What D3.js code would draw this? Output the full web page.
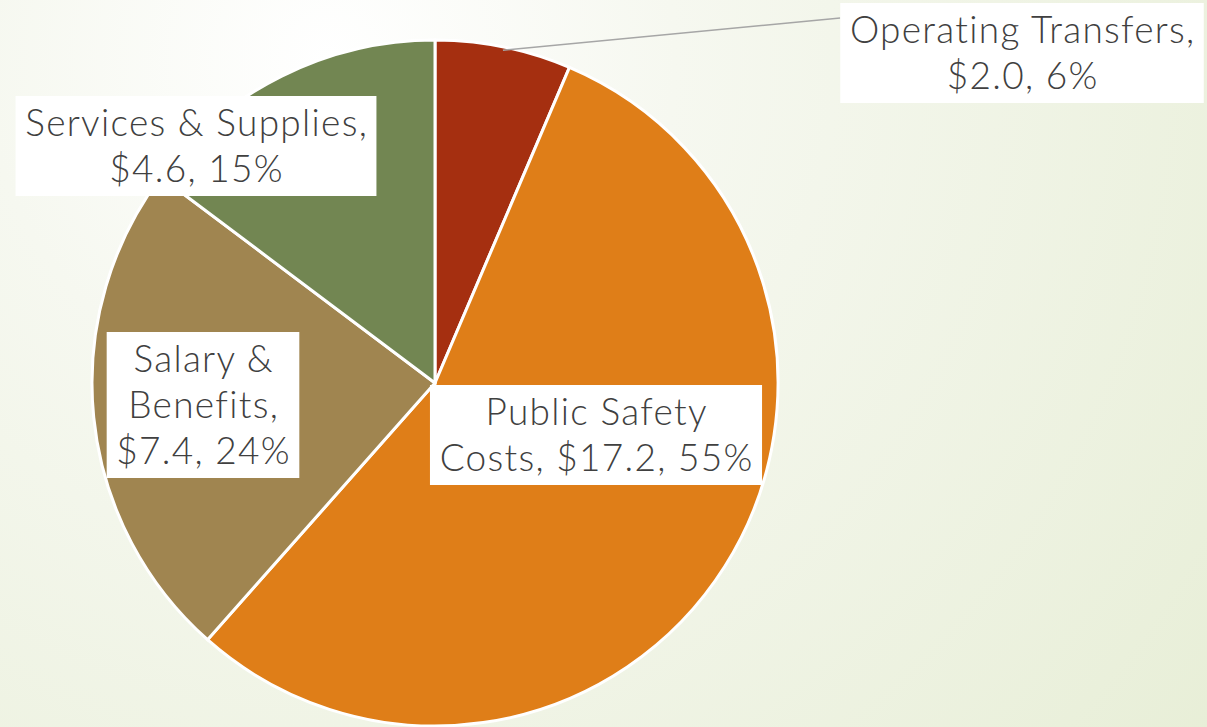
<!DOCTYPE html>
<html>
<head>
<meta charset="utf-8">
<script src="https://cdn.jsdelivr.net/npm/d3@7"></script>
<style>
  html, body { margin: 0; padding: 0; }
  body { width: 1207px; height: 727px; overflow: hidden; }
  #chart { width: 1207px; height: 727px; }
</style>
</head>
<body>
<div id="chart"></div>
<script>
// budget categories, in millions, clockwise from 12 o'clock
const categories = ['Operating Transfers', 'Public Safety Costs', 'Salary & Benefits', 'Services & Supplies'];
const amounts = [2.0, 17.2, 7.4, 4.6];
const percents = [6, 55, 24, 15];
const colors = ['#a52f10', '#df7e18', '#a08550', '#728652'];

// how many words go on each label line
const lineBreaks = [[2], [2], [2, 3], [3]];

function createBudgetPie() {
    const container = d3.select('#chart');
    container.html('');

    const width = 1207;
    const height = 727;
    const cx = 435;
    const cy = 383;
    const radius = 343;

    const svg = container.append('svg')
        .attr('width', width)
        .attr('height', height);

    const defs = svg.append('defs');
    const bg = defs.append('radialGradient')
        .attr('id', 'bg')
        .attr('gradientUnits', 'userSpaceOnUse')
        .attr('cx', 330).attr('cy', 60).attr('r', 1150);
    bg.append('stop').attr('offset', '0').attr('stop-color', '#ffffff');
    bg.append('stop').attr('offset', '0.3').attr('stop-color', '#f6f8f0');
    bg.append('stop').attr('offset', '1').attr('stop-color', '#e7eed6');

    svg.append('rect')
        .attr('width', width)
        .attr('height', height)
        .attr('fill', 'url(#bg)');

    const data = categories.map((c, i) => ({
        category: c,
        amount: amounts[i],
        percent: percents[i],
        color: colors[i]
    }));

    const pie = d3.pie()
        .value(d => d.amount)
        .sort(null);

    const arc = d3.arc()
        .innerRadius(0)
        .outerRadius(radius);

    const g = svg.append('g')
        .attr('transform', `translate(${cx},${cy})`);

    const arcs = pie(data);

    g.selectAll('.slice')
        .data(arcs)
        .enter()
        .append('path')
        .attr('class', 'slice')
        .attr('d', arc)
        .attr('fill', d => d.data.color)
        .attr('stroke', '#ffffff')
        .style('stroke-width', '3px');

    // label centres relative to the pie centre (PowerPoint moved them by hand)
    const labelCenter = [[587, -330], [161, 52], [-232, 22], [-239, -237]];
    const fontSize = 37;
    const lineHeight = 46;
    const spacing = 1.3;
    const padX = 9;
    const padY = 4;

    function splitLines(d, i) {
        const words = `${d.category}, $${d.amount.toFixed(1)}, ${d.percent}%`.split(' ');
        const cuts = [0, ...lineBreaks[i], words.length];
        const lines = [];
        for (let k = 0; k < cuts.length - 1; k++) {
            lines.push(words.slice(cuts[k], cuts[k + 1]).join(' '));
        }
        return lines;
    }

    const labels = g.selectAll('.label')
        .data(arcs)
        .enter()
        .append('g')
        .attr('class', 'label')
        .attr('transform', (d, i) => `translate(${labelCenter[i][0]},${labelCenter[i][1]})`);

    labels.each(function(d, i) {
        const lab = d3.select(this);
        const lines = splitLines(d.data, i);
        const box = lab.append('rect').attr('fill', '#ffffff');
        const text = lab.append('text')
            .attr('text-anchor', 'middle')
            .style('font-family', '"Century Gothic", Lato, "DejaVu Sans", sans-serif')
            .style('font-weight', 300)
            .style('font-size', fontSize + 'px')
            .style('letter-spacing', spacing + 'px')
            .style('fill', '#404040');
        lines.forEach((line, k) => {
            text.append('tspan')
                .attr('x', spacing / 2)
                .attr('y', (k - (lines.length - 1) / 2) * lineHeight)
                .attr('dy', '0.35em')
                .text(line);
        });
        const w = d3.max(text.selectAll('tspan').nodes(), n => n.getComputedTextLength());
        const h = lines.length * lineHeight;
        box.attr('x', -w / 2 - padX)
            .attr('y', -h / 2 - padY)
            .attr('width', w + padX * 2)
            .attr('height', h + padY * 2);
        d.box = { left: labelCenter[i][0] - w / 2 - padX, firstLine: labelCenter[i][1] - (lines.length - 1) / 2 * lineHeight };
    });

    // leader line for the small slice, from its outer edge to its label
    const first = arcs[0];
    const mid = (first.startAngle + first.endAngle) / 2;
    const edge = [radius * 0.99 * Math.sin(mid), -radius * 0.99 * Math.cos(mid)];
    g.insert('polyline', '.label')
        .attr('points', [edge, [first.box.left, first.box.firstLine - 12]])
        .style('fill', 'none')
        .style('stroke', '#a6a6a6')
        .style('stroke-width', '1.5px');
}

createBudgetPie();
</script>
</body>
</html>
